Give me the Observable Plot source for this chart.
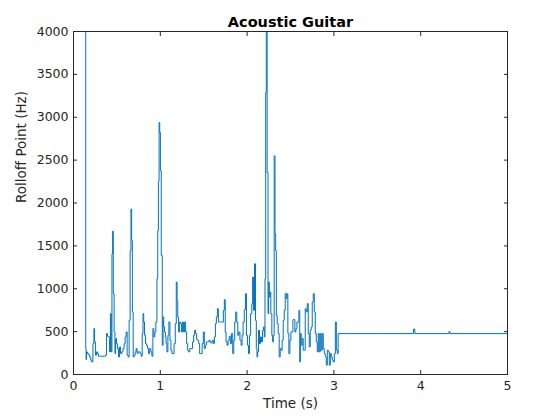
<!DOCTYPE html>
<html><head><meta charset="utf-8">
<script src="https://cdn.jsdelivr.net/npm/d3@7"></script>
<script src="https://cdn.jsdelivr.net/npm/@observablehq/plot@0.6"></script>
<style>body{margin:0;background:#fff;}</style>
</head><body><div id="chart"></div>
<script>
const title = "Acoustic Guitar";
const xLabel = "Time (s)";
const yLabel = "Rolloff Point (Hz)";
const xTicks = [0, 1, 2, 3, 4, 5];
const yTicks = [0, 500, 1000, 1500, 2000, 2500, 3000, 3500, 4000];

const time = [
  0.139,0.143,0.147,0.154,0.166,0.177,0.193,0.204,0.216,0.231,
  0.239,0.247,0.258,0.270,0.281,0.293,0.308,0.328,0.347,0.362,
  0.374,0.385,0.397,0.412,0.420,0.431,0.439,0.447,0.455,0.462,
  0.474,0.481,0.489,0.501,0.512,0.524,0.535,0.547,0.562,0.578,
  0.589,0.601,0.612,0.624,0.635,0.647,0.658,0.666,0.674,0.682,
  0.693,0.705,0.716,0.728,0.739,0.751,0.763,0.774,0.786,0.797,
  0.805,0.813,0.824,0.836,0.847,0.859,0.870,0.886,0.897,0.909,
  0.920,0.932,0.943,0.955,0.967,0.974,0.982,0.990,0.997,1.005,
  1.017,1.028,1.036,1.043,1.055,1.063,1.070,1.082,1.093,1.105,
  1.117,1.128,1.140,1.151,1.167,1.178,1.190,1.197,1.205,1.217,
  1.228,1.240,1.251,1.263,1.274,1.286,1.298,1.309,1.321,1.332,
  1.348,1.363,1.378,1.390,1.401,1.413,1.425,1.436,1.448,1.459,
  1.475,1.490,1.501,1.513,1.525,1.536,1.552,1.567,1.578,1.590,
  1.605,1.617,1.629,1.640,1.652,1.663,1.675,1.694,1.721,1.732,
  1.744,1.752,1.763,1.775,1.786,1.802,1.810,1.829,1.840,1.852,
  1.863,1.875,1.887,1.898,1.910,1.925,1.937,1.948,1.960,1.975,
  1.987,1.998,2.010,2.021,2.033,2.048,2.060,2.067,2.079,2.091,
  2.102,2.110,2.118,2.125,2.137,2.148,2.160,2.171,2.183,2.194,
  2.202,2.210,2.218,2.225,2.237,2.245,2.252,2.260,2.268,2.279,
  2.291,2.298,2.306,2.318,2.325,2.333,2.341,2.352,2.364,2.375,
  2.387,2.398,2.410,2.422,2.433,2.445,2.456,2.464,2.475,2.487,
  2.499,2.510,2.522,2.533,2.545,2.556,2.568,2.580,2.591,2.603,
  2.610,2.618,2.629,2.641,2.652,2.664,2.675,2.687,2.699,2.710,
  2.722,2.733,2.745,2.756,2.768,2.780,2.791,2.803,2.814,2.826,
  2.837,2.849,2.860,2.872,2.883,2.895,2.907,2.918,2.930,2.941,
  2.953,2.964,2.976,2.987,2.999,3.011,3.022,3.034,3.045,3.053,
  3.064,3.910,3.925,3.940,4.320,4.330,4.345,5.000
];

const rolloff = [
  4500,300,174,264,244,233,205,167,147,360,
  535,380,225,264,244,213,213,213,213,213,
  225,477,446,438,264,709,264,1407,1671,942,
  496,244,419,360,302,205,322,244,264,302,
  360,438,496,225,205,632,1446,1930,1562,729,
  205,225,264,302,244,264,264,244,213,477,
  709,612,457,360,341,302,244,302,264,213,
  535,438,496,612,1116,1678,2252,2938,2822,2376,
  1388,341,671,554,496,438,360,264,457,612,
  399,283,244,244,360,593,1078,857,671,496,
  612,593,496,612,496,612,496,360,283,264,
  302,302,380,457,516,477,407,399,360,244,
  244,360,496,302,341,380,380,399,380,368,
  399,360,438,593,671,767,612,612,612,748,
  872,496,380,341,399,446,360,477,244,399,
  612,729,612,457,496,399,341,457,612,756,
  942,457,341,244,457,709,826,1136,748,1291,
  632,302,205,264,516,360,438,380,516,554,
  438,1116,3287,4300,2357,709,1078,903,961,709,
  457,380,457,2550,1640,1446,690,593,477,205,
  302,283,399,632,748,942,884,942,477,244,
  399,496,496,640,640,496,535,612,612,748,
  147,477,341,419,283,283,767,729,826,477,
  322,516,554,845,942,729,477,380,264,477,
  264,477,283,477,302,244,205,109,283,264,
  109,244,205,167,147,244,612,283,244,477,
  477,477,530,477,477,500,477,477
];

const rows = time.map((t, i) => ({t, hz: rolloff[i]}));
const plain = d => String(d);

const chart = Plot.plot({
  width: 560,
  height: 420,
  marginLeft: 73,
  marginRight: 53,
  marginTop: 31,
  marginBottom: 46,
  style: {fontFamily: "DejaVu Sans, sans-serif", fontSize: "12.5px", color: "#262626", background: "#ffffff"},
  x: {domain: [0, 5]},
  y: {domain: [0, 4000]},
  marks: [
    Plot.line(rows, {x: "t", y: "hz", stroke: "#0072bd", strokeWidth: 1, curve: "step", clip: true}),
    Plot.frame({stroke: "#262626"}),
    Plot.axisX({ticks: xTicks, anchor: "bottom", tickSize: -4, tickPadding: 11, tickFormat: plain, label: null, fontSize: 12.5}),
    Plot.axisX({ticks: xTicks, anchor: "top", tickSize: -4, tickFormat: () => "", label: null}),
    Plot.axisY({ticks: yTicks, anchor: "left", tickSize: -4, tickPadding: 9, tickFormat: plain, label: null, fontSize: 12.5}),
    Plot.axisY({ticks: yTicks, anchor: "right", tickSize: -4, tickFormat: () => "", label: null}),
    Plot.text([xLabel], {text: d => d, frameAnchor: "bottom", dy: 33, fontSize: 13.5, fill: "#262626"}),
    Plot.text([yLabel], {text: d => d, frameAnchor: "left", dx: -52, rotate: -90, fontSize: 13.5, fill: "#262626"}),
    Plot.text([title], {text: d => d, frameAnchor: "top", dy: -15, fontSize: 14.5, fontWeight: "bold", fill: "#000000"})
  ]
});
document.getElementById("chart").append(chart);
</script>
</body></html>
